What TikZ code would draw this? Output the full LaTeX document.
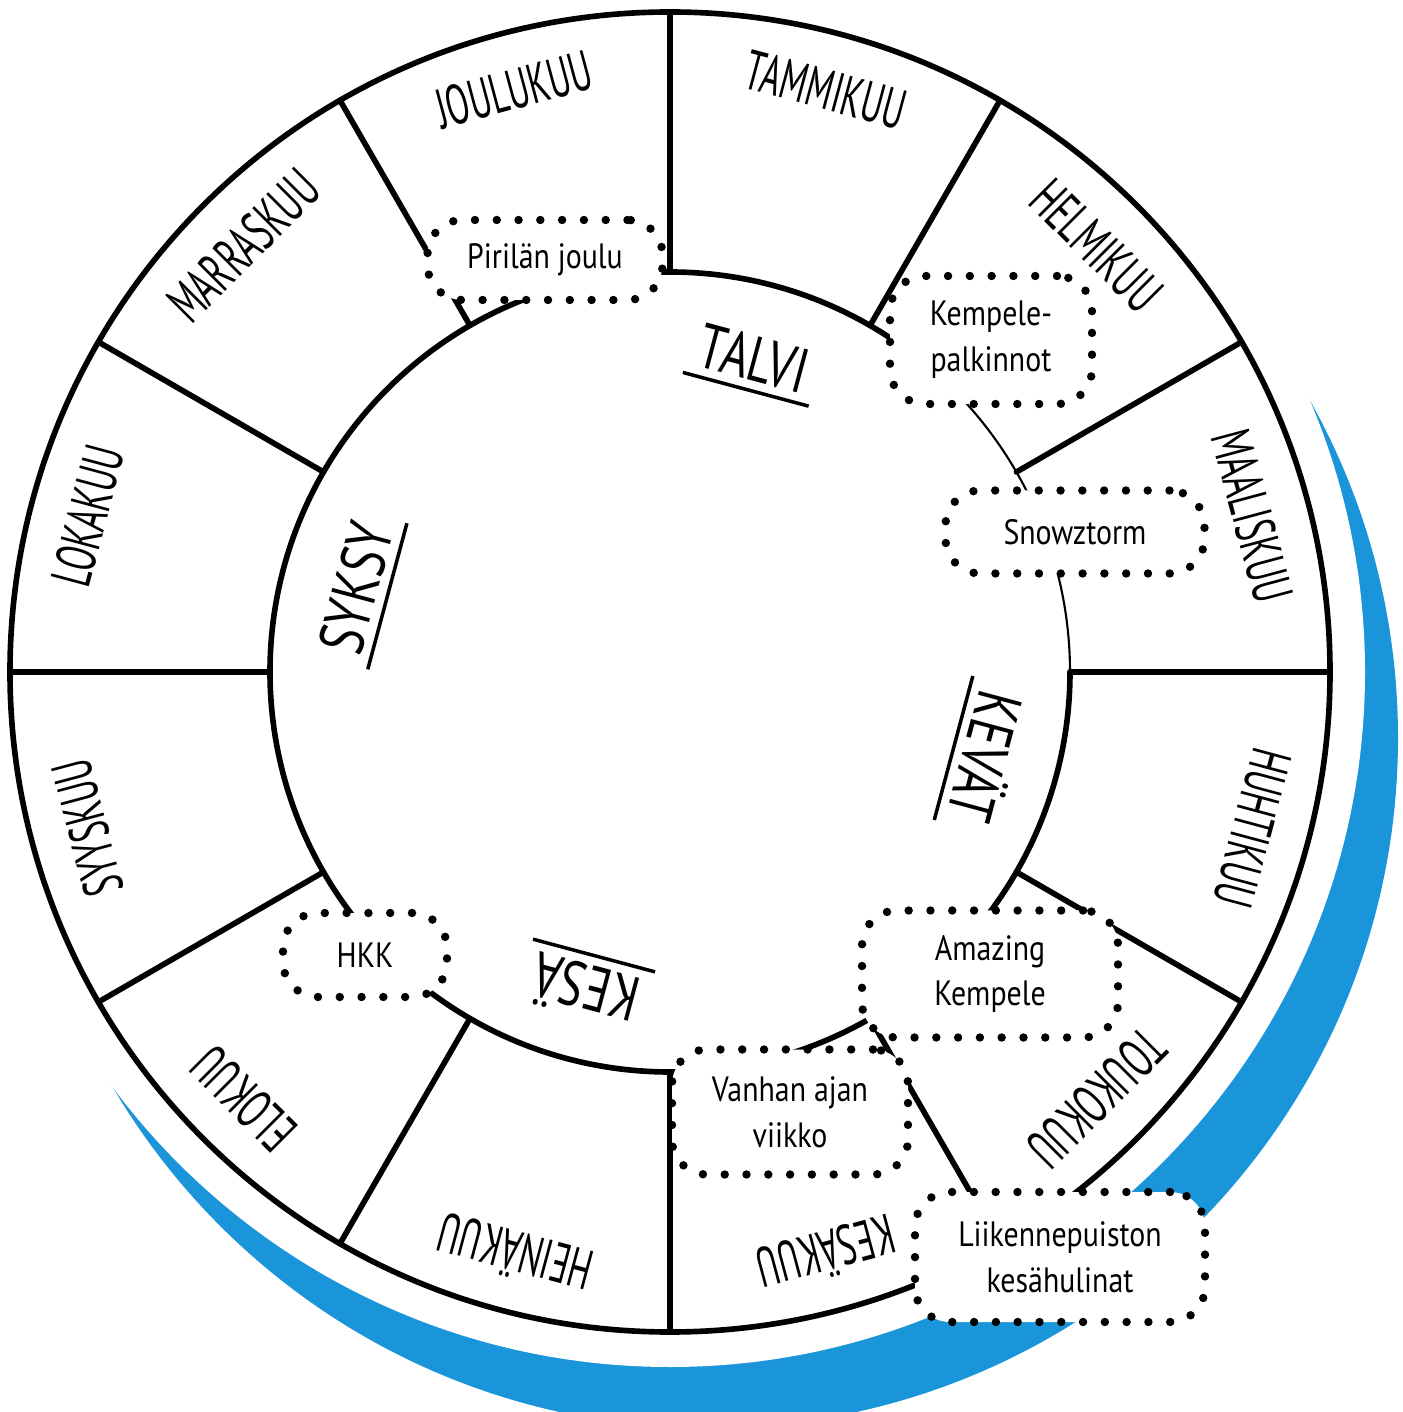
\documentclass[tikz,border=0pt]{standalone}
\usepackage{fontspec}
\setmainfont{PT Sans}
\newfontfamily\monthfont[FakeStretch=0.6]{PT Sans}
\newfontfamily\seasonfont[FakeStretch=0.75]{PT Sans}
\newfontfamily\eventfont[FakeStretch=0.85]{PT Sans}
\definecolor{wheelblue}{HTML}{1B95DA}
\begin{document}
\begin{tikzpicture}[
  wheel/.style={line width=1.6pt, line cap=round},
  month/.style={font=\monthfont\fontsize{16}{18}\selectfont},
  season/.style={font=\seasonfont\fontsize{18}{20}\selectfont, inner sep=2.5pt},
  event/.style={draw, fill=white, rounded corners=0.35cm, line width=2.4pt, line cap=round,
    dash pattern=on 0pt off 6.2pt, align=center, inner sep=0pt,
    font=\eventfont\fontsize{10}{13}\selectfont}
]
\useasboundingbox (-6.70,-7.40) rectangle (7.32,6.72);
\clip (-6.70,-7.40) rectangle (7.32,6.72);
% blue crescent
\fill[wheelblue] (0.38,-0.66) circle (6.90);
\fill[white] (0,0) circle (6.95);
% wheel
\draw[wheel] (0,0) circle (6.6);
\draw[wheel] (48:4) arc[start angle=48, end angle=360, radius=4];
\draw[line width=0.6pt] (0:4) arc[start angle=0, end angle=48, radius=4];
\foreach \a in {0,30,...,330}
  \draw[wheel] (\a:4) -- (\a:6.6);
% months
\foreach \a/\txt [count=\i] in {75/TAMMIKUU, 45/HELMIKUU, 15/MAALISKUU, -15/HUHTIKUU,
    -45/TOUKOKUU, -75/KESÄKUU, -105/HEINÄKUU, -135/ELOKUU, -165/SYYSKUU,
    -195/LOKAKUU, -225/MARRASKUU, -255/JOULUKUU}
  \node[month, rotate=\a-90] (month\i) at (\a:6.03) {\txt};
% seasons
\node[season, rotate=-15] (talvi) at (75:3.25) {TALVI};
\node[season, rotate=-105] (kevat) at (-15:3.3) {KEVÄT};
\node[season, rotate=-195] (kesa) at (-105:3.3) {KESÄ};
\node[season, rotate=75] (syksy) at (165:3.25) {SYKSY};
\foreach \s in {talvi,kevat,kesa,syksy}
  \draw[line width=1pt] (\s.south west) -- (\s.south east);
% events
\node[event, minimum width=2.35cm, minimum height=0.8cm] (pirila) at (-1.25,4.12) {Pirilän joulu};
\node[event, minimum width=2.02cm, minimum height=1.28cm] (palkinnot) at (3.21,3.32) {Kempele-\\palkinnot};
\node[event, minimum width=2.59cm, minimum height=0.83cm] (snowztorm) at (4.05,1.40) {Snowztorm};
\node[event, minimum width=2.56cm, minimum height=1.27cm] (amazing) at (3.20,-3.02) {Amazing\\Kempele};
\node[event, minimum width=2.36cm, minimum height=1.25cm] (vanhan) at (1.20,-4.40) {Vanhan ajan\\viikko};
\node[event, minimum width=2.90cm, minimum height=1.30cm] (liikenne) at (3.90,-5.85) {Liikennepuiston\\kesähulinat};
\node[event, minimum width=1.64cm, minimum height=0.84cm] (hkk) at (-3.05,-2.83) {HKK};
\end{tikzpicture}
\end{document}
